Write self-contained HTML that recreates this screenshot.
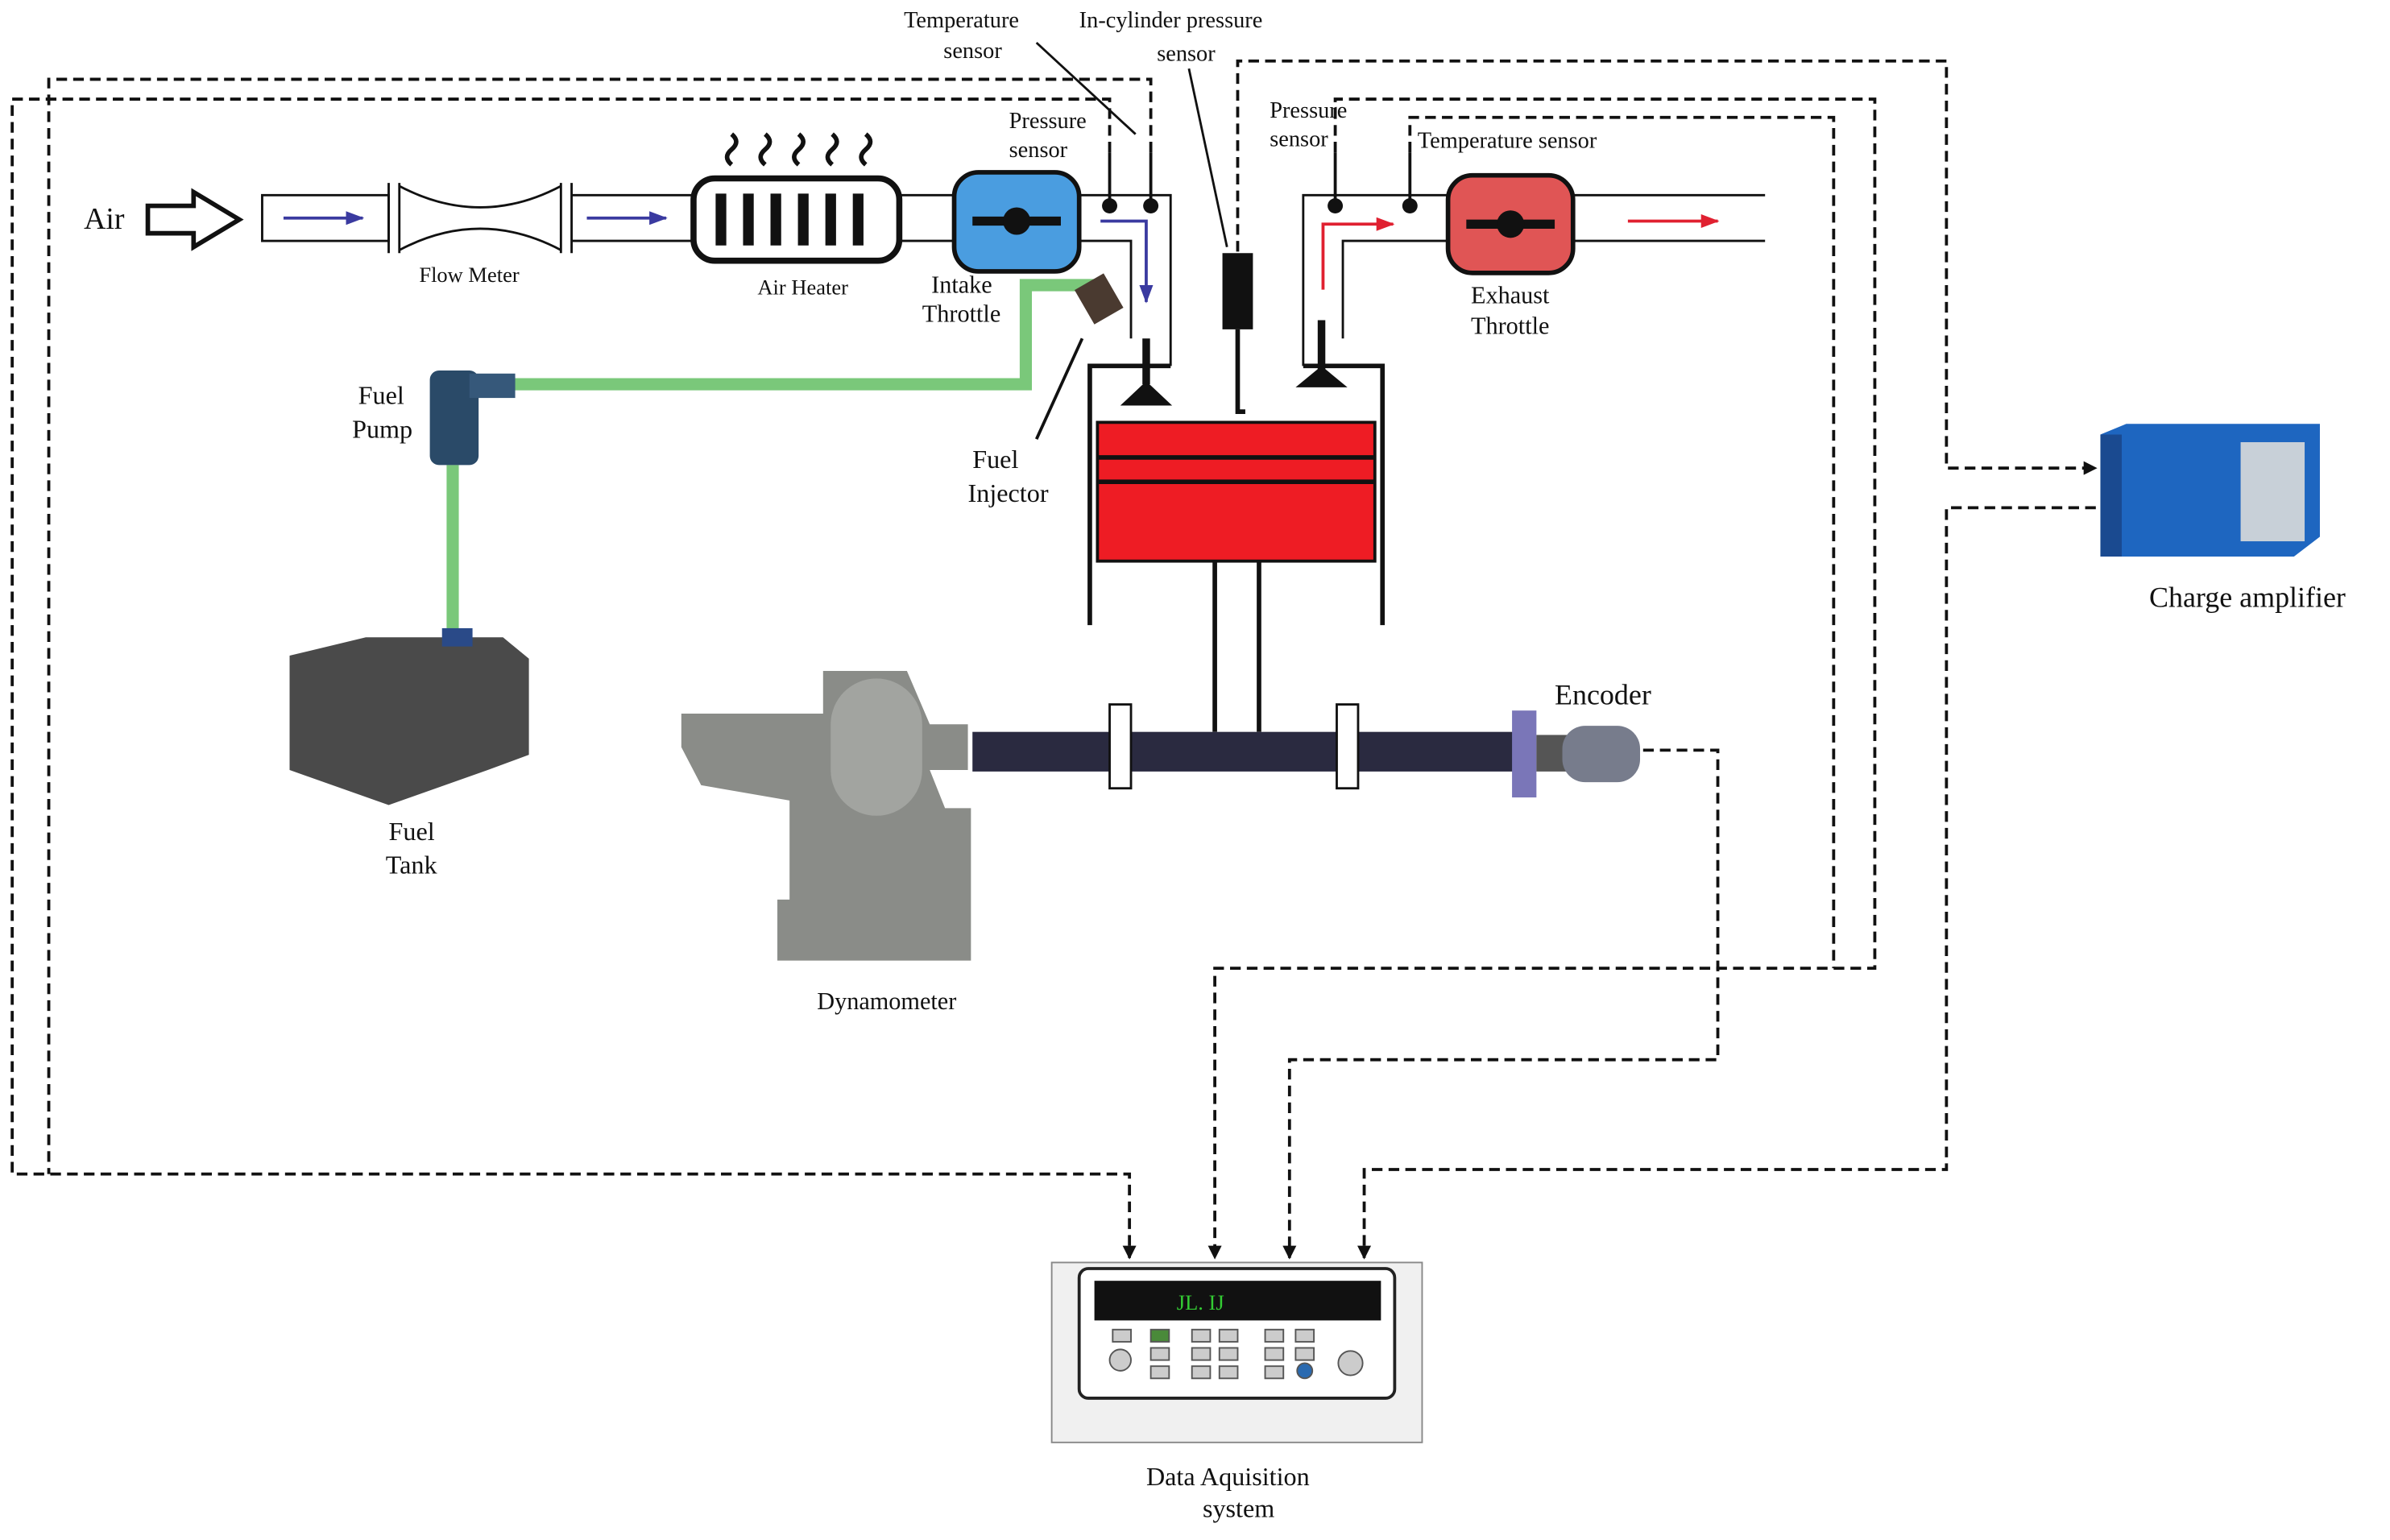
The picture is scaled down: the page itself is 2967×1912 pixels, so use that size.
<!DOCTYPE html>
<html><head><meta charset="utf-8"><style>html,body{margin:0;padding:0;background:#fff}svg{display:block}text{font-family:"Liberation Serif",serif;fill:#111}</style></head><body>
<svg width="2967" height="1912" viewBox="0 0 1568 1010" preserveAspectRatio="none" xmlns="http://www.w3.org/2000/svg">
<defs><marker id="ah" markerUnits="userSpaceOnUse" markerWidth="9" markerHeight="9" refX="8" refY="4.5" orient="auto"><path d="M0,0 L9,4.5 L0,9 z" fill="#111"/></marker>
<marker id="ab" markerUnits="userSpaceOnUse" markerWidth="12" markerHeight="9" refX="11" refY="4.5" orient="auto"><path d="M0,0 L12,4.5 L0,9 z" fill="#3a3aa0"/></marker>
<marker id="ar" markerUnits="userSpaceOnUse" markerWidth="12" markerHeight="9" refX="11" refY="4.5" orient="auto"><path d="M0,0 L12,4.5 L0,9 z" fill="#e02030"/></marker></defs>
<g fill="none" stroke="#111" stroke-width="2" stroke-dasharray="7,4">
<path d="M728,100 V65 H8 V770 H741 V825" marker-end="url(#ah)"/>
<path d="M755,100 V52 H32 V770"/>
<path d="M812,165 V40 H1277 V307 H1375" marker-end="url(#ah)"/>
<path d="M1375,333 H1277 V767 H895 V825" marker-end="url(#ah)"/>
<path d="M876,100 V65 H1230 V635 H797 V825" marker-end="url(#ah)"/>
<path d="M925,100 V77 H1203 V635"/>
<path d="M1078,492 H1127 V695 H846 V825" marker-end="url(#ah)"/>
</g>
<path d="M97,135 H127 V126 L157,144 L127,162 V153 H97 Z" fill="#fff" stroke="#111" stroke-width="3"/>
<text x="55" y="150" font-size="20">Air</text>
<g stroke="#111" stroke-width="1.5" fill="#fff">
<rect x="172" y="128" width="83" height="30"/>
<path d="M255,120 V166 M262,120 V166 M262,122 Q315,150 368,122 M262,164 Q315,136 368,164 M368,120 V166 M375,120 V166"/>
<path d="M375,128 H455 M375,158 H455 M590,128 H628 M590,158 H628 M708,128 H768 V240 M708,158 H742 V222"/>
<path d="M855,240 V128 H1158 M881,222 V158 H1158"/>
</g>
<line x1="186" y1="143" x2="238" y2="143" stroke="#3a3aa0" stroke-width="2" marker-end="url(#ab)"/>
<line x1="385" y1="143" x2="437" y2="143" stroke="#3a3aa0" stroke-width="2" marker-end="url(#ab)"/>
<text x="275" y="185" font-size="14">Flow Meter</text>
<rect x="455" y="117" width="135" height="54" rx="14" fill="#fff" stroke="#111" stroke-width="4"/>
<g stroke="#111" stroke-width="7"><path d="M473,127V161M491,127V161M509,127V161M527,127V161M545,127V161M563,127V161"/></g>
<g fill="none" stroke="#111" stroke-width="3"><path d="M480,108 q-6,-5 0,-10 q6,-5 0,-10 M502,108 q-6,-5 0,-10 q6,-5 0,-10 M524,108 q-6,-5 0,-10 q6,-5 0,-10 M546,108 q-6,-5 0,-10 q6,-5 0,-10 M568,108 q-6,-5 0,-10 q6,-5 0,-10"/></g>
<text x="497" y="193" font-size="14">Air Heater</text>
<rect x="626" y="113" width="82" height="65" rx="16" fill="#4a9de0" stroke="#111" stroke-width="3"/>
<path d="M638,145 H696" stroke="#111" stroke-width="6"/><circle cx="667" cy="145" r="9" fill="#111"/>
<text x="611" y="192" font-size="16">Intake</text><text x="605" y="211" font-size="16">Throttle</text>
<rect x="950" y="115" width="82" height="64" rx="16" fill="#e05555" stroke="#111" stroke-width="3"/>
<path d="M962,147 H1020" stroke="#111" stroke-width="6"/><circle cx="991" cy="147" r="9" fill="#111"/>
<text x="965" y="199" font-size="16">Exhaust</text><text x="965" y="219" font-size="16">Throttle</text>
<path d="M722,145 H752 V198" fill="none" stroke="#3a3aa0" stroke-width="2" marker-end="url(#ab)"/>
<path d="M868,190 V147 H914" fill="none" stroke="#e02030" stroke-width="2" marker-end="url(#ar)"/>
<line x1="1068" y1="145" x2="1127" y2="145" stroke="#e02030" stroke-width="2" marker-end="url(#ar)"/>
<g stroke="#111" stroke-width="2"><path d="M728,100V135M755,100V135M876,100V135M925,100V135"/></g>
<g fill="#111"><circle cx="728" cy="135" r="5"/><circle cx="755" cy="135" r="5"/><circle cx="876" cy="135" r="5"/><circle cx="925" cy="135" r="5"/></g>
<rect x="802" y="166" width="20" height="50" fill="#111"/><path d="M812,216V270H817" stroke="#111" stroke-width="3" fill="none"/>
<g stroke="#111" stroke-width="3" fill="none"><path d="M715,410V240H768 M855,240H907V410"/></g>
<path d="M752,222V252 M867,210V252" stroke="#111" stroke-width="5"/>
<path d="M735,266 L752,250 L769,266Z M850,254 L867,240 L884,254Z" fill="#111"/>
<rect x="720" y="277" width="182" height="91" fill="#ee1c24" stroke="#111" stroke-width="2"/>
<path d="M720,300H902M720,316H902" stroke="#111" stroke-width="3"/>
<path d="M797,368V480M826,368V480" stroke="#111" stroke-width="3"/>
<rect x="638" y="480" width="357" height="26" fill="#2a2a40"/>
<rect x="728" y="462" width="14" height="55" fill="#fff" stroke="#111" stroke-width="1.5"/>
<rect x="877" y="462" width="14" height="55" fill="#fff" stroke="#111" stroke-width="1.5"/>
<rect x="992" y="466" width="16" height="57" fill="#7a76b8"/>
<rect x="1008" y="482" width="20" height="24" fill="#555"/>
<rect x="1025" y="476" width="51" height="37" rx="15" fill="#777c8c"/>
<text x="1020" y="462" font-size="19">Encoder</text>
<path d="M335,252H673V187H718" fill="none" stroke="#7ac87a" stroke-width="8"/>
<path d="M297,305V412" stroke="#7ac87a" stroke-width="8"/>
<rect x="282" y="243" width="32" height="62" rx="6" fill="#2a4a68"/><rect x="308" y="245" width="30" height="16" fill="#36587a"/>
<rect x="710" y="183" width="22" height="26" fill="#4a3a30" transform="rotate(-30 721 196)"/>
<path d="M680,288L710,222" stroke="#111" stroke-width="2"/>
<text x="235" y="265" font-size="17">Fuel</text><text x="231" y="287" font-size="17">Pump</text>
<text x="638" y="307" font-size="17">Fuel</text><text x="635" y="329" font-size="17">Injector</text>
<path d="M190,430 L240,418 H330 L347,432 V495 L320,505 L255,528 L190,505Z" fill="#4a4a4a"/>
<rect x="290" y="412" width="20" height="12" fill="#2a4a88"/>
<text x="255" y="551" font-size="17">Fuel</text><text x="253" y="573" font-size="17">Tank</text>
<path d="M447,468 H540 V440 H595 L610,475 H635 V505 H610 L620,530 H637 V630 H510 V590 H518 V525 L460,515 L447,490Z" fill="#8a8c88"/>
<rect x="545" y="445" width="60" height="90" rx="30" fill="#a2a4a0"/>
<text x="536" y="662" font-size="16">Dynamometer</text>
<path d="M1378,285 L1395,278 H1522 V352 L1505,365 H1378Z" fill="#1e66c0"/>
<rect x="1378" y="285" width="14" height="80" fill="#1a4a90"/>
<rect x="1470" y="290" width="42" height="65" fill="#c8d0d8"/>
<text x="1410" y="398" font-size="19">Charge amplifier</text>
<rect x="690" y="828" width="243" height="118" fill="#f0f0f0" stroke="#888"/>
<rect x="708" y="832" width="207" height="85" rx="6" fill="#fff" stroke="#222" stroke-width="2"/>
<rect x="718" y="840" width="188" height="26" fill="#111"/>
<text x="772" y="859" font-size="14" style="fill:#3c3">JL. IJ</text>
<g fill="#ccc" stroke="#555"><rect x="730" y="872" width="12" height="8"/><rect x="755" y="872" width="12" height="8" fill="#4a8a3a"/><rect x="782" y="872" width="12" height="8"/><rect x="800" y="872" width="12" height="8"/><rect x="830" y="872" width="12" height="8"/><rect x="850" y="872" width="12" height="8"/><rect x="755" y="884" width="12" height="8"/><rect x="782" y="884" width="12" height="8"/><rect x="800" y="884" width="12" height="8"/><rect x="830" y="884" width="12" height="8"/><rect x="850" y="884" width="12" height="8"/><rect x="755" y="896" width="12" height="8"/><rect x="782" y="896" width="12" height="8"/><rect x="800" y="896" width="12" height="8"/><rect x="830" y="896" width="12" height="8"/><circle cx="856" cy="899" r="5" fill="#2a6ab0"/><circle cx="735" cy="892" r="7"/><circle cx="886" cy="894" r="8"/></g>
<text x="752" y="974" font-size="17">Data Aquisition</text><text x="789" y="995" font-size="17">system</text>
<g font-size="15">
<text x="593" y="18">Temperature</text><text x="619" y="38">sensor</text>
<text x="708" y="18">In-cylinder pressure</text><text x="759" y="40">sensor</text>
<text x="662" y="84">Pressure</text><text x="662" y="103">sensor</text>
<text x="833" y="77">Pressure</text><text x="833" y="96">sensor</text>
<text x="930" y="97">Temperature sensor</text>
</g>
<path d="M680,28L745,88M780,45L805,162" stroke="#111" stroke-width="1.5"/>
</svg>
</body></html>
